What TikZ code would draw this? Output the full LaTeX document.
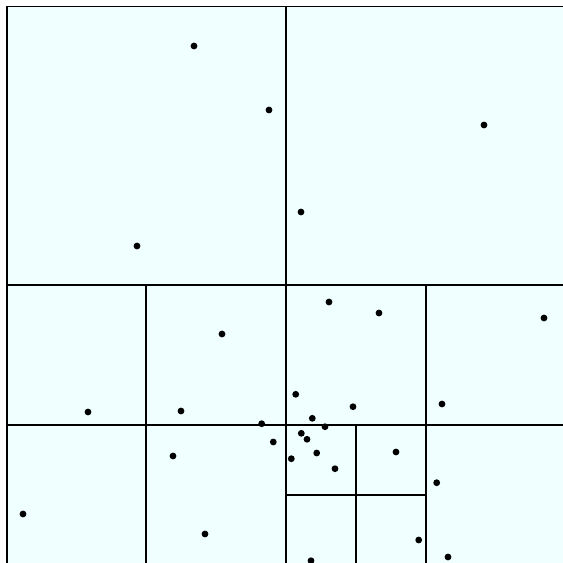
\documentclass[tikz,border=0pt]{standalone}
\begin{document}
\begin{tikzpicture}[x=1pt,y=-1pt,
  cell/.style={draw=black,line width=1.8pt},
  pt/.style={fill=black}]
\useasboundingbox (0,0) rectangle (563,563);
\clip (0,0) rectangle (563,563);
\fill[white] (0,0) rectangle (563,563);
% root square
\filldraw[fill={rgb,255:red,240;green,255;blue,255},cell] (7,6.5) rectangle (566,566);
% level 1
\draw[cell] (286,6.5) -- (286,566);
\draw[cell] (7,285) -- (566,285);
% level 2 (bottom half subdivided)
\draw[cell] (146,285) -- (146,566);
\draw[cell] (426,285) -- (426,566);
\draw[cell] (7,425) -- (566,425);
% level 3
\draw[cell] (356,425) -- (356,566);
\draw[cell] (286,495) -- (426,495);
% points
\foreach \p in {(194,46),(269,110),(484,125),(301,212),(137,246),(329,302),(379,313),(544,318),(222,334),
  (295.7,394.3),(442,404),(88,412),(181,411),(353,406.7),(312.3,418.3),(261.7,423.7),(325,426.7),
  (301.3,433.3),(307,439.3),(273.3,442),(396,452),(316.7,453),(173,456),(291.3,458.7),(335,468.7),
  (436.7,482.7),(23,514),(205,534),(418.7,540),(448,557),(311,560.7)}
  \fill[pt] \p circle (3.4);
\end{tikzpicture}
\end{document}
